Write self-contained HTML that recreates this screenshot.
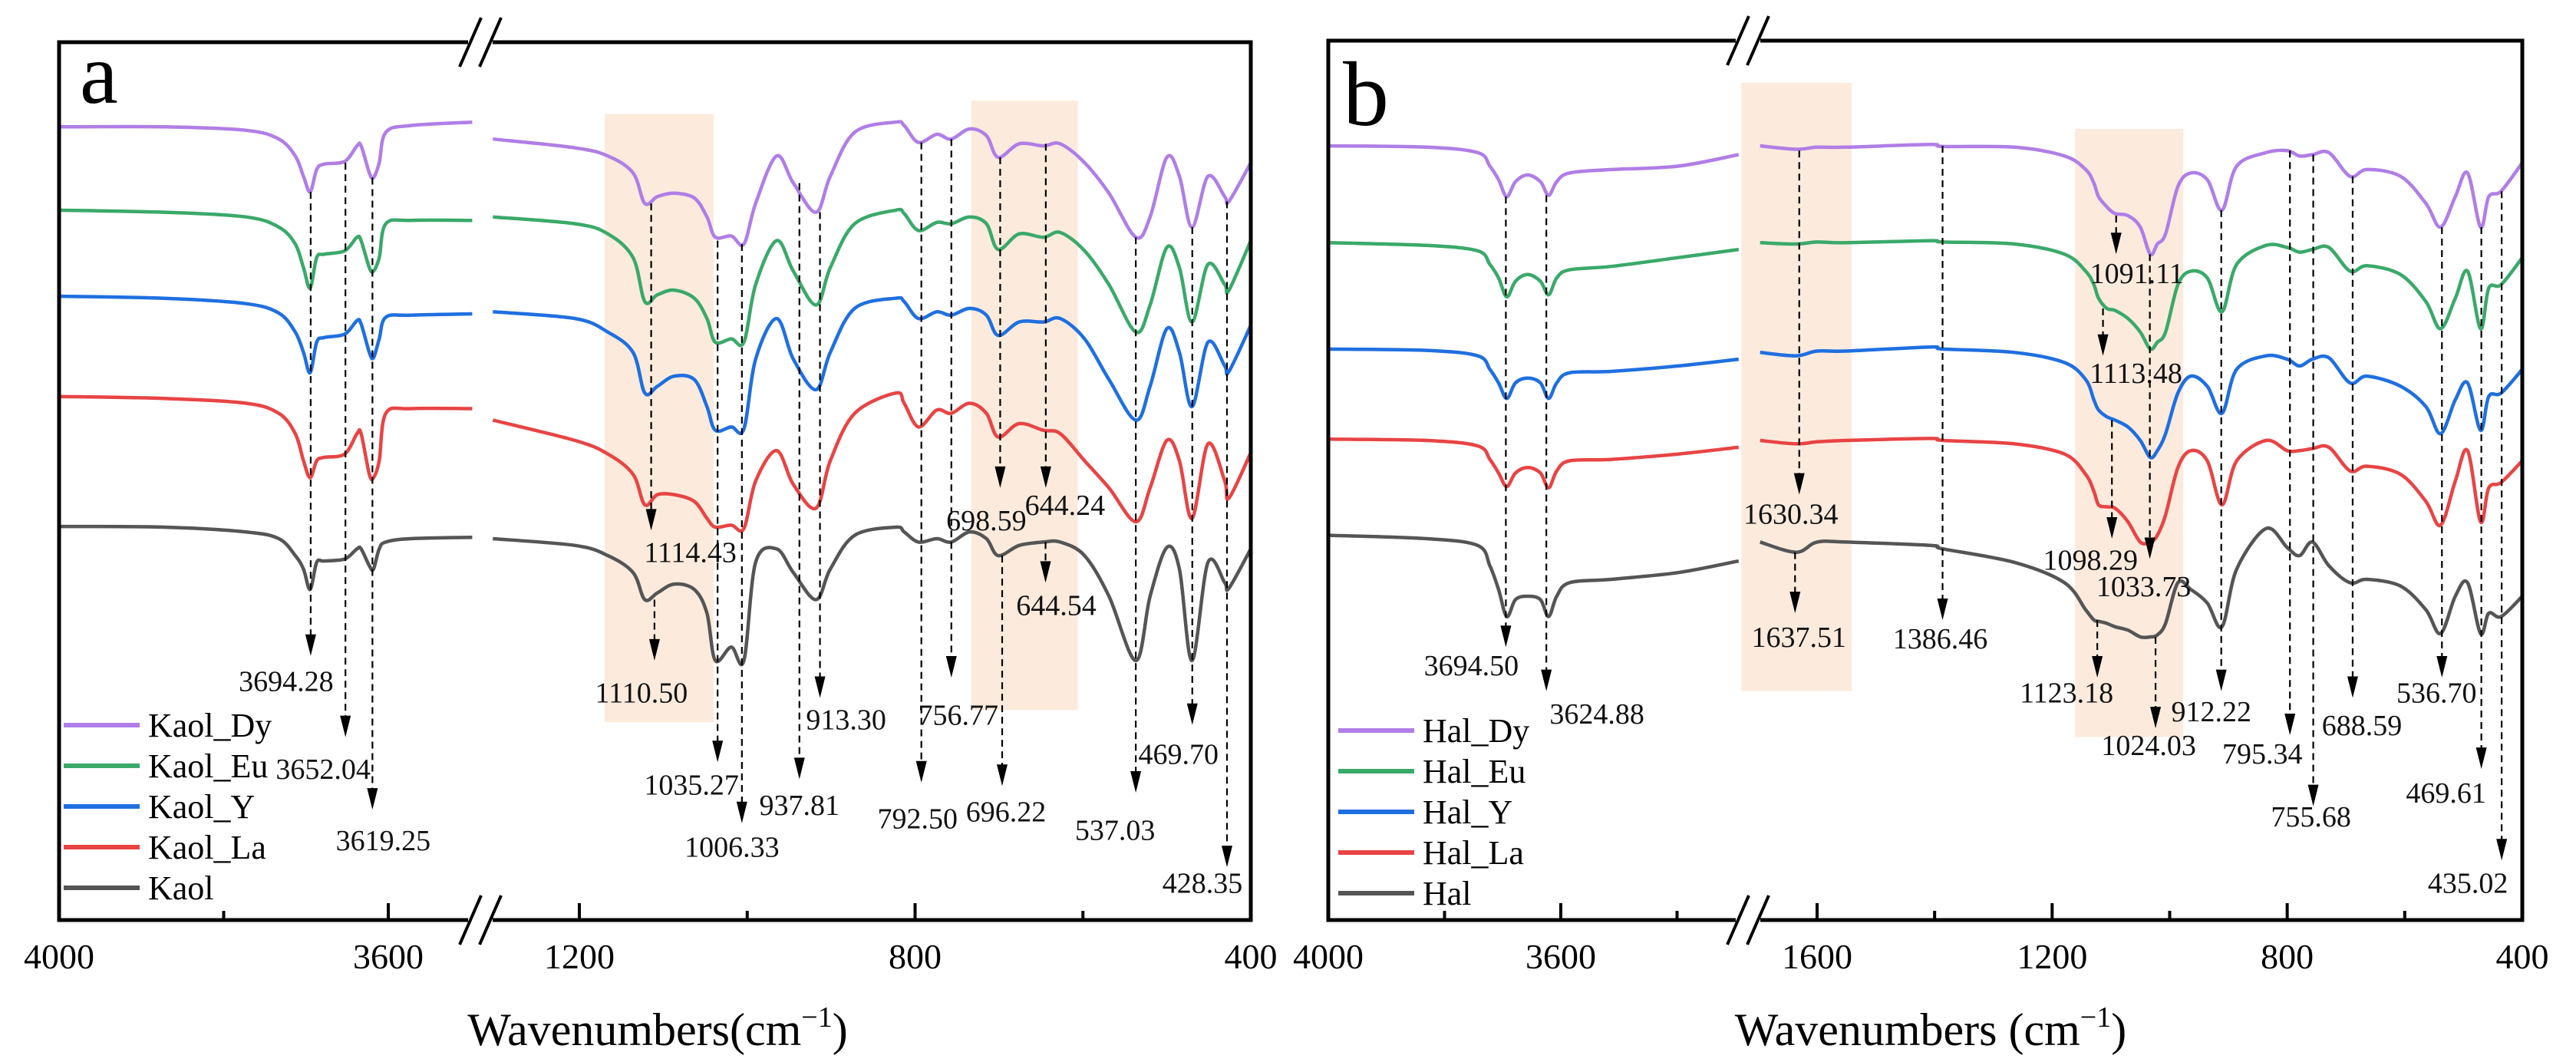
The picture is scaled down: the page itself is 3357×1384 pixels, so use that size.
<!DOCTYPE html>
<html><head><meta charset="utf-8"><style>
html,body{margin:0;padding:0;background:#fff;}
svg{display:block;font-family:"Liberation Serif",serif;}
</style></head><body>
<svg id="chart" width="3357" height="1384" viewBox="0 0 3357 1384" xmlns="http://www.w3.org/2000/svg">
<g id="root"></g>
</svg>
<script>
// ---------- DATA (values in inverted transmittance units, larger = lower on plot) ----------
const aLeftWn=[4000,3872,3773,3733,3713,3703,3695,3687,3678,3653,3638,3633,3623,3618,3611,3603,3573,3498];
const aRightWn=[1303,1205,1166,1136,1122,1107,1087,1063,1048,1038,1019,1004,990,965,945,918,901,872,823,813,796,774,757,735,715,701,676,647,627,598,569,537,520,500,485,470,451,431,426,400];
const aDyL=[18.7,18.7,19.2,20.5,23,26,28.3,25,24.2,23.8,21.5,21.5,25.5,26.2,24,19.5,18.5,18];
const aEuL=[31,31.3,32,33.5,36,39.5,42.5,38,37.5,37,35,35.5,39.5,40,38,33,32.5,32.5];
const aYL=[43.7,44,44.8,46.2,49,52,55,50.5,49.8,49.3,47.3,47.8,52,52.8,50,46.8,46.5,46.3];
const aLaL=[58.5,58.8,59.5,61,64,68,70.5,68,67.5,67,64,64,70,70.5,68,61,60.3,60.3];
const aKaolL=[77.7,77.8,78.5,79.5,82,84,87,83,82.8,82.5,81,81,83.5,84,81,80,79.5,79.3];
const aDyR=[20.5,21.8,23,25.5,30,29,28.5,29.2,32,35,34.8,36,30,23,27,31.3,26,19.5,18,18.5,21,19.8,20.5,19,20,23.2,21.2,21.5,21.2,24,28.5,35,32,23.2,26,33.5,26,29,29.7,24];
const aEuR=[32,33,34.5,38,44.5,43.5,42.8,44,47,50.5,50,50.5,42,35.5,40,45,39.5,33,31,31.5,34,32.8,33,32,33,36.8,34.5,35,34.3,37,42,49,45,36.5,39.5,47.5,39,42,42.8,35.5];
const aYR=[46,47,49,52,58,57,55.5,56,60,63.5,63,63.3,53,47,53,57.5,52,45.5,44,44.5,47,46,46.5,45.5,46.5,49.5,47.5,47.5,47,50,56,62,57,48.5,52,60,50.5,54,54.8,48];
const aLaR=[62,65,67,70,74.5,73,73,74,76.5,77.8,77.5,78,71,66.5,71.5,75,68,61,58,59.5,63,60.5,61,59.5,61,64.5,62.5,63.5,64,68,72,77,72,65,68,76.5,65.5,71,73.5,66.8];
const aKaolR=[79.5,80.5,82,84.5,88.5,87.5,86.2,87,90.5,97.5,95.5,97.5,83,81,84.5,88.5,84,79,77.8,78.5,80,79.5,80,78.5,79.5,82,80.5,80,80,82,88,97.5,88,80.8,84,97.5,83,86,86.8,81];

const bLeftWn=[4000,3831,3743,3722,3707,3693,3678,3657,3635,3621,3607,3585,3513,3398,3294];
const bRightWn=[1697,1636,1600,1550,1407,1386,1264,1179,1143,1129,1121,1107,1093,1071,1050,1033,1021,1007,986,964,936,911,886,836,800,779,757,729,693,664,607,564,539,514,493,471,457,436,400];
const bDyL=[21.5,21.7,22.5,24.5,26.5,29,26.8,25.8,26.8,28.8,26.8,25.5,25,24.5,22.8];
const bEuL=[35.8,36.2,37,39,41,43.8,41.5,40.5,41.5,43.5,41,39.8,39.3,38,36.8];
const bYL=[51.5,51.7,52.5,54.5,56.5,58.8,56.5,55.8,56.5,58.8,56.5,55,54.8,54,53];
const bLaL=[64.8,65,65.8,67.8,69.8,71.8,69.8,69,69.8,72,69.5,68,67.8,67,66];
const bHalL=[79,79.5,80.5,83.5,87,91,88.5,88,88.5,91,88,86,85.5,84.5,82.8];
const bDyR=[21.5,22,21.7,21.7,21.3,21.6,21.7,23,25,27,29,30.5,31.5,31.8,33.5,37.5,36,34.5,27.5,25.5,26.5,31,24.5,22.5,22.2,23,22.8,22.5,26,25,26,30,33.5,29,25.5,33.5,29,28.2,24];
const bEuR=[35.8,36,35.7,35.8,35.5,35.7,36,37.5,40,42,44,45.5,45.8,47,49,51.5,50.5,49,42,40,41,46,39,36.2,36.5,37.2,36.8,36.5,40,39.2,40.5,44.5,48.5,44,40,48.5,42.5,42,38];
const bYR=[52,52.5,51.8,51.8,51.2,51.5,52,53.5,56,59,60.5,61.5,62,63,65,67.5,66.5,64,58,55.5,57,61,54.5,52.5,53,54,53,52.8,56.5,55.5,57,60,64,59,56.5,63.5,58.5,58,54.5];
const bLaR=[65,65.5,65.2,65,64.7,65,65.5,67,70,72.5,74.5,74.8,75,77,80,80,79,76,69,66.5,68,74.5,68,65,66.5,66.5,66.2,66,69.5,68.8,70,74,77.5,71,66.5,77,72,71.2,68];
const bHalR=[80,81.5,80,80,80.5,81,83,86,90,91.5,91.7,92,92.5,93,94,94,93.7,92,86,87,89,92.5,84,78,80.8,82,80,83.5,86,85.5,86.5,90,93.5,88,86,93.5,90.5,91,88];

const aNames=["Kaol_Dy","Kaol_Eu","Kaol_Y","Kaol_La","Kaol"];
const bNames=["Hal_Dy","Hal_Eu","Hal_Y","Hal_La","Hal"];
const colors=["#b07ee6","#3aa96a","#1f6fe0","#e84444","#555555"];

const aMajorTicks=[4000,3600,1200,800,400];
const aMinorTicks=[3800,1000,600];
const bMajorTicks=[4000,3600,1600,1200,800,400];
const bMinorTicks=[3800,3400,1400,1000,600];

// [wavenumber, yTop, yTip, labelDx, yLabel]
const aAnnWn=[3694.28,3652.04,3619.25,1114.43,1110.50,1035.27,1006.33,937.81,913.30,792.50,756.77,698.59,644.24,644.54,696.22,537.03,469.70,428.35];
const aAnnTop=[28.3,24,26.2,30,88.5,35.5,36,27,31.3,21,20.5,23.2,21.2,80,82,35,33.5,29.7];
const aAnnTip=[96.8,108.8,119.5,78.3,97.5,112.5,121.5,115,103,115.5,100,72,72,86,116,117,107,128];
const aAnnLabelY=[100.5,113.5,124,81.5,102.2,115.8,125,118.8,106.2,120.8,105.5,76.8,74.5,89.3,119.8,122.5,111.3,130.3];
const aAnnDx=[-32,-29,14,51,-17,-34,-13,0,34,-5,9,-18,25,14,5,-27,-18,-32];
const aAnnText=["3694.28","3652.04","3619.25","1114.43","1110.50","1035.27","1006.33","937.81","913.30","792.50","756.77","698.59","644.24","644.54","696.22","537.03","469.70","428.35"];

const bAnnWn=[3694.50,3624.88,1630.34,1637.51,1386.46,1091.11,1113.48,1098.29,1033.73,1024.03,1123.18,912.22,795.34,755.68,688.59,536.70,469.61,435.02];
const bAnnTop=[29,28.8,22.2,81.5,21.5,31.8,45.5,62,37.5,94,91.5,31,22.2,22.8,26,33.5,33.5,28.2];
const bAnnTip=[95.5,102,73,90.5,91.5,37.5,52.5,79.5,82.5,107.5,100,102,108.5,119,103,100,113.5,127];
const bAnnLabelY=[98.2,105.3,75.8,94,94.2,40.3,55,82.6,86.5,110,102.2,105,111.2,120.5,107,102.2,117,130.3];
const bAnnDx=[-45,66,-11,5,-3,27,43,-28,-8,-9,-40,-13,-36,-3,12,-7,-46,-44];
const bAnnText=["3694.50","3624.88","1630.34","1637.51","1386.46","1091.11","1113.48","1098.29","1033.73","1024.03","1123.18","912.22","795.34","755.68","688.59","536.70","469.61","435.02"];

// shaded bands [wnFrom, wnTo, yTop, yBottom]
const aBands=[[1170,1040,16.8,106.6],[733,606,14.8,104.8]];
const bBands=[[1729,1541,12.2,102.0],[1161,977,19.0,108.8]];

// ---------- RENDER ----------
const NS="http://www.w3.org/2000/svg";
const root=document.getElementById('root');
function mk(tag,attrs,parent){const e=document.createElementNS(NS,tag);for(const k in attrs)e.setAttribute(k,attrs[k]);(parent||root).appendChild(e);return e;}

function yScale(v){return 55+(v-6.2)*8.827;}

function smoothPath(xs,ys){
  let d="M"+xs[0].toFixed(1)+","+ys[0].toFixed(1);
  for(let i=0;i<xs.length-1;i++){
    const x0=xs[Math.max(0,i-1)],y0=ys[Math.max(0,i-1)];
    const x1=xs[i],y1=ys[i],x2=xs[i+1],y2=ys[i+1];
    const x3=xs[Math.min(xs.length-1,i+2)],y3=ys[Math.min(xs.length-1,i+2)];
    const c1x=x1+(x2-x0)/6,c1y=y1+(y2-y0)/6,c2x=x2-(x3-x1)/6,c2y=y2-(y3-y1)/6;
    d+=" C"+c1x.toFixed(1)+","+c1y.toFixed(1)+" "+c2x.toFixed(1)+","+c2y.toFixed(1)+" "+x2.toFixed(1)+","+y2.toFixed(1);
  }
  return d;
}

function drawPanel(cfg){
  const g=mk('g',{});
  
  
  const xs=w=> w>=cfg.splitWn ? cfg.lx0+(cfg.lw0-w)*cfg.lk : cfg.rx0+(cfg.rw0-w)*cfg.rk;
  // bands
  cfg.bands.forEach((b,i)=>{
    const r=mk('rect',{x:xs(b[0]),y:yScale(b[2]),width:xs(b[1])-xs(b[0]),height:yScale(b[3])-yScale(b[2]),fill:'#fcebdd'},g);
    
    
  });
  // series
  cfg.series.forEach((s,i)=>{
    [[cfg.leftWn,s.L],[cfg.rightWn,s.R]].forEach((seg,j)=>{
      const p=mk('path',{d:smoothPath(seg[0].map(xs),seg[1].map(yScale)),fill:'none',stroke:colors[i],'stroke-width':4.5,'stroke-linejoin':'round'},g);
      
      
    });
  });
  // annotations
  const a=cfg.ann;
  a.wn.forEach((w,i)=>{
    const x=xs(w),y1=yScale(a.top[i]),y2=yScale(a.tip[i]);
    const ag=mk('g',{},g);
    
    
    mk('line',{x1:x,y1:y1,x2:x,y2:y2-26,stroke:'#000','stroke-width':2.2,'stroke-dasharray':'9,6'},ag);
    mk('polygon',{points:(x-7)+","+(y2-28)+" "+(x+7)+","+(y2-28)+" "+x+","+y2,fill:'#000'},ag);
    const t=mk('text',{x:x+a.dx[i],y:yScale(a.ly[i])+13,'font-size':38,'text-anchor':'middle',fill:'#111'},ag);
    t.textContent=a.text[i];
  });
  // frame
  const fr=mk('rect',{x:cfg.fx0,y:cfg.fy0,width:cfg.fx1-cfg.fx0,height:cfg.fy1-cfg.fy0,fill:'none',stroke:'#000','stroke-width':5},g);
  
  
  // break marks
  [cfg.fy0,cfg.fy1].forEach(yy=>{
    mk('rect',{x:cfg.bx-16,y:yy-6,width:32,height:12,fill:'#fff'},g);
    [-13,13].forEach(o=>{
      const l=mk('line',{x1:cfg.bx+o-14,y1:yy+32,x2:cfg.bx+o+14,y2:yy-32,stroke:'#000','stroke-width':4},g);
      
      
    });
  });
  // ticks
  cfg.major.forEach(w=>{
    const x=xs(w);
    if(w!==cfg.major[0]&&w!==400) mk('line',{x1:x,y1:cfg.fy1,x2:x,y2:cfg.fy1-22,stroke:'#000','stroke-width':4},g);
    const t=mk('text',{x:x,y:1262,'font-size':46,'text-anchor':'middle',fill:'#000'},g);
    
    
    t.textContent=w;
  });
  cfg.minor.forEach(w=>{
    const x=xs(w);
    mk('line',{x1:x,y1:cfg.fy1,x2:x,y2:cfg.fy1-12,stroke:'#000','stroke-width':4},g);
  });
  // axis title
  const tt=mk('text',{x:cfg.titleX,y:1362,'font-size':60,'text-anchor':'middle',fill:'#000'},g);
  
  
  tt.innerHTML=cfg.title+'(cm<tspan dy="-24" font-size="38">−1</tspan><tspan dy="24">)</tspan>';
  // panel letter
  const pl=mk('text',{x:cfg.letterX,y:cfg.letterY,'font-size':cfg.letterSize,fill:'#000'},g);
  
  
  pl.textContent=cfg.id;
  // legend
  cfg.names.forEach((n,i)=>{
    const yy=cfg.legY+i*53;
    const lg=mk('g',{},g);
    
    
    mk('line',{x1:cfg.legX,y1:yy,x2:cfg.legX+99,y2:yy,stroke:colors[i],'stroke-width':6},lg);
    const t=mk('text',{x:cfg.legX+110,y:yy+15,'font-size':44,fill:'#000'},lg);
    t.textContent=n;
  });
}

drawPanel({id:'a',fx0:77,fx1:1630,fy0:55,fy1:1199,splitWn:2500,
  lx0:77,lw0:4000,lk:1.0725,rx0:755,rw0:1200,rk:1.09375,bx:626,
  leftWn:aLeftWn,rightWn:aRightWn,
  series:[{L:aDyL,R:aDyR},{L:aEuL,R:aEuR},{L:aYL,R:aYR},{L:aLaL,R:aLaR},{L:aKaolL,R:aKaolR}],
  names:aNames,bands:aBands,major:aMajorTicks,minor:aMinorTicks,
  ann:{wn:aAnnWn,top:aAnnTop,tip:aAnnTip,ly:aAnnLabelY,dx:aAnnDx,text:aAnnText},
  title:'Wavenumbers',titleX:857,letterX:104,letterY:134,letterSize:112,legX:83,legY:945});
drawPanel({id:'b',fx0:1731,fx1:3287,fy0:53,fy1:1199,splitWn:2500,
  lx0:1731,lw0:4000,lk:0.7575,rx0:2368,rw0:1600,rk:0.7658,bx:2278,
  leftWn:bLeftWn,rightWn:bRightWn,
  series:[{L:bDyL,R:bDyR},{L:bEuL,R:bEuR},{L:bYL,R:bYR},{L:bLaL,R:bLaR},{L:bHalL,R:bHalR}],
  names:bNames,bands:bBands,major:bMajorTicks,minor:bMinorTicks,
  ann:{wn:bAnnWn,top:bAnnTop,tip:bAnnTip,ly:bAnnLabelY,dx:bAnnDx,text:bAnnText},
  title:'Wavenumbers ',titleX:2516,letterX:1750,letterY:163,letterSize:120,legX:1744,legY:952});
</script>
</body></html>
